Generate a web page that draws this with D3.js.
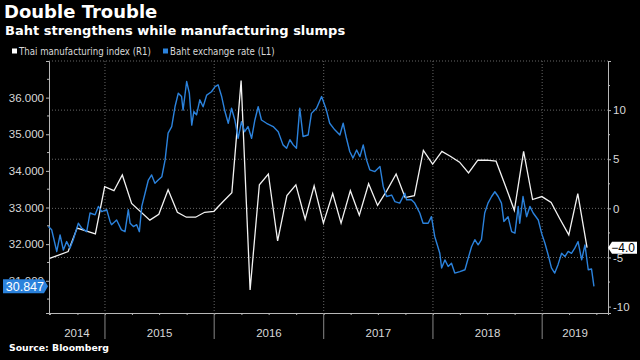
<!DOCTYPE html>
<html>
<head>
<meta charset="utf-8">
<script src="https://d3js.org/d3.v7.min.js"></script>
<style>
body { margin: 0; background: #000; }
svg { display: block; }
</style>
</head>
<body>
<div id="chart"></div>
<script>
// Baht exchange rate (L1)
var bahtDates = ["2014-06-26","2014-07-07","2014-07-24","2014-08-04","2014-08-15","2014-08-26","2014-09-06","2014-09-17",
  "2014-10-04","2014-10-15","2014-11-01","2014-11-12","2014-11-29","2014-12-10","2014-12-21","2015-01-07","2015-01-18",
  "2015-01-23","2015-02-09","2015-02-25","2015-03-09","2015-03-20","2015-03-26","2015-04-06","2015-04-17","2015-04-26",
  "2015-05-04","2015-05-15","2015-05-26","2015-06-06","2015-06-17","2015-06-28","2015-07-10","2015-07-21","2015-07-31",
  "2015-08-12","2015-08-23","2015-09-03","2015-09-14","2015-09-19","2015-10-01","2015-10-10","2015-10-18","2015-10-25",
  "2015-11-03","2015-11-14","2015-11-25","2015-12-07","2015-12-23","2016-01-04","2016-01-14","2016-01-26","2016-02-06",
  "2016-02-17","2016-02-28","2016-03-10","2016-03-21","2016-04-01","2016-04-12","2016-04-23","2016-05-05","2016-05-16",
  "2016-05-27","2016-06-07","2016-06-24","2016-07-16","2016-08-02","2016-08-18","2016-08-30","2016-09-10","2016-09-21",
  "2016-10-02","2016-10-13","2016-10-24","2016-11-10","2016-11-21","2016-12-08","2016-12-25","2017-01-10","2017-01-21",
  "2017-02-07","2017-02-24","2017-03-07","2017-03-18","2017-03-29","2017-04-09","2017-04-21","2017-05-02","2017-05-13",
  "2017-05-24","2017-06-04","2017-06-21","2017-07-08","2017-07-19","2017-07-30","2017-08-16","2017-08-27","2017-09-12",
  "2017-09-29","2017-10-05","2017-10-21","2017-11-01","2017-11-18","2017-11-29","2017-12-16","2017-12-27","2018-01-07",
  "2018-01-24","2018-01-30","2018-02-10","2018-02-21","2018-03-04","2018-03-15","2018-04-01","2018-04-18","2018-04-29",
  "2018-05-10","2018-05-21","2018-06-01","2018-06-12","2018-06-23","2018-07-04","2018-07-16","2018-07-27","2018-08-07",
  "2018-08-18","2018-08-26","2018-09-09","2018-09-21","2018-10-02","2018-10-13","2018-10-18","2018-10-29","2018-11-10",
  "2018-11-21","2018-12-02","2018-12-19","2018-12-30","2019-01-10","2019-01-21","2019-02-01","2019-02-12","2019-02-23",
  "2019-03-07","2019-03-18","2019-03-29","2019-04-09","2019-04-20","2019-05-01","2019-05-13","2019-05-24","2019-06-04",
  "2019-06-15","2019-06-23"];
var bahtValues = [32.48,32.39,31.80,32.25,31.84,32.07,31.89,32.12,
  32.57,32.44,32.34,32.85,32.80,33.03,32.89,32.94,32.62,
  32.53,32.66,32.39,32.34,32.94,32.57,32.48,32.53,32.34,
  33.03,33.39,33.75,33.89,33.66,33.75,33.84,34.30,35.03,
  35.21,35.75,36.12,36.03,35.66,36.44,36.12,35.25,35.62,
  35.53,35.94,35.75,36.07,36.16,36.30,36.35,36.03,35.62,
  35.30,35.71,35.39,34.89,35.34,35.07,35.21,34.89,35.39,
  35.75,35.39,35.30,35.21,35.07,34.71,34.62,34.85,34.71,
  34.62,35.71,34.94,34.98,35.57,35.71,36.03,35.66,35.30,
  35.12,34.98,35.30,34.89,34.53,34.35,34.57,34.39,34.71,
  34.30,34.03,33.98,34.12,33.57,33.30,33.34,33.16,33.12,
  33.39,33.21,33.21,33.12,32.85,32.57,32.57,32.75,32.21,
  31.75,31.35,31.57,31.39,31.48,31.21,31.25,31.30,31.62,
  31.93,32.12,31.98,32.12,32.85,33.12,33.30,33.43,33.30,
  33.12,32.62,32.75,32.34,32.30,33.03,32.57,33.30,32.75,
  33.03,32.85,32.66,32.30,32.03,31.71,31.35,31.21,31.44,
  31.75,31.66,31.80,31.75,31.89,32.07,31.57,31.98,31.30,
  31.32,30.847];

// Thai manufacturing index (R1), monthly
var mfgMonths = ["2014-06-30","2014-08-31","2014-09-30","2014-11-30","2014-12-31","2015-01-31","2015-02-28","2015-03-31",
  "2015-05-31","2015-06-30","2015-07-31","2015-08-31","2015-09-30","2015-10-31","2015-11-30","2015-12-31",
  "2016-01-31","2016-02-29","2016-03-31","2016-04-30","2016-05-31","2016-06-30","2016-07-31","2016-08-31",
  "2016-09-30","2016-10-31","2016-11-30","2016-12-31","2017-01-31","2017-02-28","2017-03-31","2017-04-30",
  "2017-05-31","2017-06-30","2017-07-31","2017-08-31","2017-09-30","2017-10-31","2017-11-30","2017-12-31",
  "2018-01-31","2018-02-28","2018-03-31","2018-04-30","2018-05-31","2018-06-30","2018-07-31","2018-08-31",
  "2018-09-30","2018-10-31","2018-11-30","2018-12-31","2019-01-31","2019-02-28","2019-03-31","2019-04-30",
  "2019-05-31"];
var mfgValues = [-5.1,-4.4,-2.0,-2.6,2.2,1.8,3.4,0.5,
  -1.2,-0.6,1.9,-0.4,-0.9,-0.9,-0.4,-0.3,
  0.7,1.6,13.0,-8.3,2.4,3.5,-3.3,1.3,
  2.4,-1.1,2.3,-1.5,1.5,-1.5,1.8,-0.7,
  2.5,0.3,1.8,3.5,1.1,1.3,5.9,4.5,
  5.8,5.3,4.7,3.6,4.9,4.9,4.8,2.3,
  -0.2,5.8,0.9,1.2,0.6,-1.0,-2.7,1.5,
  -4.0];

var leftTicks = [31, 32, 33, 34, 35, 36, 37];
var leftMinor = [30.5, 31.5, 32.5, 33.5, 34.5, 35.5, 36.5];
var rightTicks = [-10, -5, 0, 5, 10, 15];
var rightMinor = [-7.5, -2.5, 2.5, 7.5, 12.5];
var years = [2014, 2015, 2016, 2017, 2018, 2019];

var width = 640, height = 360;
var plotLeft = 49, plotRight = 608, plotTop = 61, plotBottom = 313;
var blue = "#2b82dc";
var axisColor = "#b8b8b8";
var labelColor = "#d8d8d8";
var parse = d3.timeParse("%Y-%m-%d");

var svg = d3.select("#chart").append("svg")
  .attr("width", width)
  .attr("height", height)
  .style("background", "#000");

var x = d3.scaleTime()
  .domain([parse("2014-06-28"), parse("2019-08-09")])
  .range([plotLeft, plotRight]);
var yL = d3.scaleLinear().domain([30.12, 37.0]).range([plotBottom, plotTop]);
var yR = d3.scaleLinear().domain([-10.65, 15.0]).range([plotBottom, plotTop]);

// titles
svg.append("text").text("Double Trouble")
  .attr("x", 4).attr("y", 18)
  .attr("fill", "#fff")
  .style("font", "bold 18px 'DejaVu Sans'");
svg.append("text").text("Baht strengthens while manufacturing slumps")
  .attr("x", 5).attr("y", 35)
  .attr("fill", "#fff")
  .style("font", "bold 13px 'DejaVu Sans'");

// legend
var legend = [
  {label: "Thai manufacturing index (R1)", color: "#fff", x: 12},
  {label: "Baht exchange rate (L1)", color: blue, x: 163}
];
legend.forEach(function(d) {
  svg.append("rect")
    .attr("x", d.x).attr("y", 48.5).attr("width", 5).attr("height", 5)
    .attr("fill", d.color);
  svg.append("text").text(d.label)
    .attr("x", d.x + 7).attr("y", 55)
    .attr("fill", labelColor)
    .style("font", "9.6px 'DejaVu Sans Condensed'");
});

// gridlines
var grid = svg.append("g");
grid.selectAll("line.h").data([15, 10, 5, 0, -5]).enter().append("line")
  .attr("x1", plotLeft).attr("x2", plotRight)
  .attr("y1", function(d) { return yR(d); })
  .attr("y2", function(d) { return yR(d); })
  .attr("stroke", "#666").attr("stroke-width", 1)
  .attr("stroke-dasharray", "1,2");
grid.selectAll("line.v").data(years.slice(1)).enter().append("line")
  .attr("x1", function(d) { return x(new Date(d, 0, 1)); })
  .attr("x2", function(d) { return x(new Date(d, 0, 1)); })
  .attr("y1", plotTop).attr("y2", plotBottom)
  .attr("stroke", "#666").attr("stroke-width", 1)
  .attr("stroke-dasharray", "1,2");

// axes
var tickFont = "11.5px 'Liberation Sans'";
var leftAxis = svg.append("g")
  .attr("transform", "translate(" + plotLeft + ",0)")
  .call(d3.axisLeft(yL).tickValues(leftTicks).tickSize(3).tickPadding(2)
    .tickFormat(function(d) { return d === 37 ? "" : d3.format(".3f")(d); }));
leftAxis.append("g").selectAll("line").data(leftMinor).enter().append("line")
  .attr("x1", -2).attr("x2", 0)
  .attr("y1", function(d) { return yL(d); }).attr("y2", function(d) { return yL(d); });

var rightAxis = svg.append("g")
  .attr("transform", "translate(" + plotRight + ",0)")
  .call(d3.axisRight(yR).tickValues(rightTicks).tickSize(3).tickPadding(2)
    .tickFormat(function(d) { return d === 15 ? "" : d; }));
rightAxis.append("g").selectAll("line").data(rightMinor).enter().append("line")
  .attr("x1", 0).attr("x2", 2)
  .attr("y1", function(d) { return yR(d); }).attr("y2", function(d) { return yR(d); });

var bottomAxis = svg.append("g")
  .attr("transform", "translate(0," + plotBottom + ")")
  .call(d3.axisBottom(x).ticks(d3.timeMonth.every(3)).tickSize(2).tickFormat(""));

[leftAxis, rightAxis, bottomAxis].forEach(function(a) {
  a.select(".domain").attr("stroke", axisColor);
  a.selectAll("line").attr("stroke", axisColor);
  a.selectAll("text").attr("fill", labelColor).style("font", tickFont);
});

// year separators and labels
bottomAxis.selectAll("line.sep").data(years.slice(1)).enter().append("line")
  .attr("x1", function(d) { return x(new Date(d, 0, 1)); })
  .attr("x2", function(d) { return x(new Date(d, 0, 1)); })
  .attr("y1", 0).attr("y2", 26)
  .attr("stroke", "#888");
bottomAxis.selectAll("text.year").data(years).enter().append("text")
  .attr("x", function(d) {
    var a = Math.max(x(new Date(d, 0, 1)), plotLeft);
    var b = Math.min(x(new Date(d + 1, 0, 1)), plotRight);
    return (a + b) / 2;
  })
  .attr("y", 24)
  .attr("text-anchor", "middle")
  .attr("fill", labelColor)
  .style("font", "11.5px 'Liberation Sans'")
  .text(function(d) { return d; });

// series
var bahtData = bahtDates.map(function(d, i) { return {date: parse(d), value: bahtValues[i]}; });
var mfgData = mfgMonths.map(function(d, i) { return {date: parse(d), value: mfgValues[i]}; });

svg.append("path").datum(mfgData)
  .attr("fill", "none").attr("stroke", "#f2f2f2").attr("stroke-width", 1.3)
  .attr("d", d3.line().x(function(d) { return x(d.date); }).y(function(d) { return yR(d.value); }));
svg.append("path").datum(bahtData)
  .attr("fill", "none").attr("stroke", blue).attr("stroke-width", 1.4)
  .attr("stroke-linejoin", "round")
  .attr("d", d3.line().x(function(d) { return x(d.date); }).y(function(d) { return yL(d.value); }));

// last value tags
var lastBaht = bahtValues[bahtValues.length - 1];
var by = yL(lastBaht);
svg.append("path")
  .attr("d", "M3," + (by - 7) + "H44L48," + by + "L44," + (by + 7) + "H3Z")
  .attr("fill", blue);
svg.append("text").text(d3.format(".3f")(lastBaht))
  .attr("x", 44).attr("y", by + 4.5)
  .attr("text-anchor", "end")
  .attr("fill", "#fff")
  .style("font", "12.5px 'Liberation Sans'");

var lastMfg = mfgValues[mfgValues.length - 1];
var my = yR(lastMfg);
svg.append("path")
  .attr("d", "M608," + my + "L612," + (my - 6) + "H637V" + (my + 6) + "H612Z")
  .attr("fill", "#fff");
svg.append("text").text(d3.format(".1f")(lastMfg))
  .attr("x", 635).attr("y", my + 4.5)
  .attr("text-anchor", "end")
  .attr("fill", "#000")
  .style("font", "12px 'Liberation Sans'");

// source
svg.append("text").text("Source: Bloomberg")
  .attr("x", 9).attr("y", 351)
  .attr("fill", "#fff")
  .style("font", "bold 9.3px 'DejaVu Sans'");
</script>
</body>
</html>
